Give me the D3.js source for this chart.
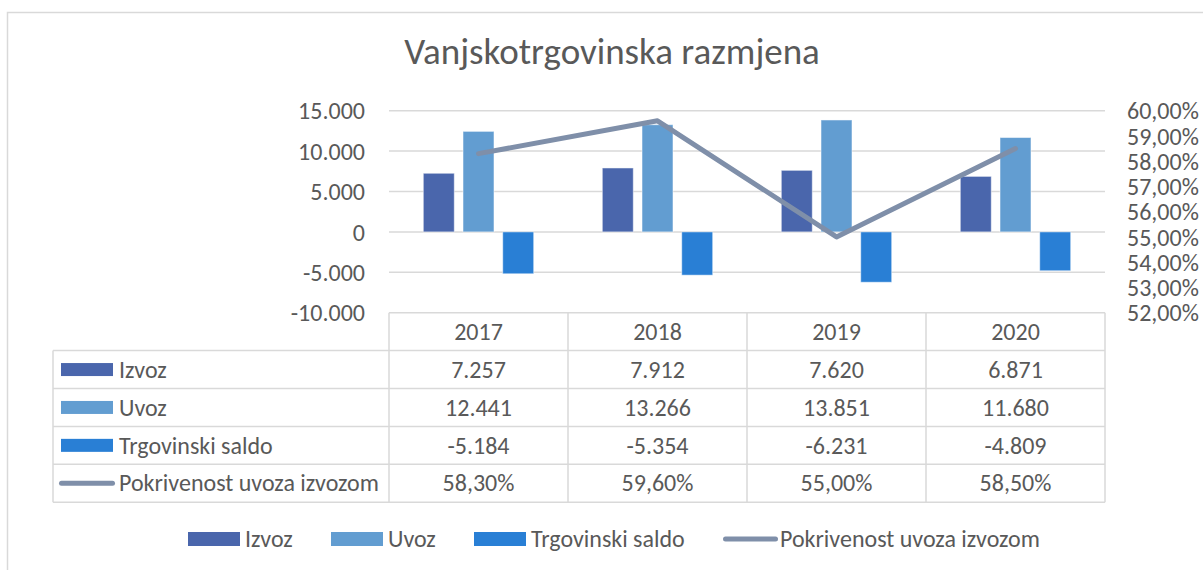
<!DOCTYPE html>
<html>
<head>
<meta charset="utf-8">
<script src="https://cdn.jsdelivr.net/npm/d3@7"></script>
<style>
  html, body { margin: 0; padding: 0; background: #fff; }
  svg { display: block; }
  text { font-family: Carlito, Calibri, "Liberation Sans", Arial, sans-serif; fill: #595959; }
</style>
</head>
<body>
<svg id="chart" width="1203" height="570"></svg>
<script>
// ---------- data ----------
const title = "Vanjskotrgovinska razmjena";
const years = ["2017", "2018", "2019", "2020"];
const seriesNames = ["Izvoz", "Uvoz", "Trgovinski saldo"];
const izvoz = [7257, 7912, 7620, 6871];
const uvoz = [12441, 13266, 13851, 11680];
const saldo = [-5184, -5354, -6231, -4809];
const lineName = "Pokrivenost uvoza izvozom";
const pokrivenost = [58.3, 59.6, 55.0, 58.5];
const leftTicks = [15000, 10000, 5000, 0, -5000, -10000];
const rightTicks = [60, 59, 58, 57, 56, 55, 54, 53, 52];

// ---------- styling ----------
const colors = { "Izvoz": "#4A66AC", "Uvoz": "#629DD1", "Trgovinski saldo": "#297FD5" };
const lineColor = "#7F8FA9";
const gridColor = "#D9D9D9";
const fs = 24;

const svg = d3.select("#chart");
const fmtNum = v => (v < 0 ? "-" : "") + d3.format(",")(Math.abs(v)).replace(/,/g, ".");
const fmtPct = v => d3.format(".2f")(v).replace(".", ",") + "%";

// outer border
svg.append("rect").attr("x", 7.5).attr("y", 12.5).attr("width", 1300).attr("height", 700)
  .attr("fill", "none").attr("stroke", gridColor).attr("stroke-width", 1.5);

// title
svg.append("text").attr("x", 612).attr("y", 64).attr("text-anchor", "middle")
  .attr("font-size", 37).text(title);

// scales
const plotLeft = 389, plotRight = 1105, plotTop = 110.7, plotBottom = 312.7;
const x0 = d3.scaleBand().domain(years).range([plotLeft, plotRight]).paddingInner(0).paddingOuter(0);
const bw = x0.bandwidth();
const x1 = d3.scaleBand().domain(seriesNames).range([bw / 2 - 55.2, bw / 2 + 55.2]).paddingInner(0.22).paddingOuter(0);
const y = d3.scaleLinear().domain([-10000, 15000]).range([plotBottom, plotTop]);
const y2 = d3.scaleLinear().domain([52, 60]).range([plotBottom, plotTop]);

// gridlines
svg.append("g").selectAll("line").data(leftTicks.filter(t => t !== -10000)).join("line")
  .attr("x1", plotLeft).attr("x2", plotRight)
  .attr("y1", d => y(d)).attr("y2", d => y(d))
  .attr("stroke", gridColor).attr("stroke-width", 1.5);

// left axis
const leftAxis = d3.axisLeft(y).tickValues(leftTicks).tickSize(0).tickPadding(0).tickFormat(fmtNum);
const gl = svg.append("g").attr("transform", "translate(365,0)").call(leftAxis);
gl.select(".domain").remove();
gl.selectAll("text").attr("font-size", fs).attr("fill", "#595959").attr("dy", "0.34em")
  .style("font-family", 'Carlito, Calibri, "Liberation Sans", Arial, sans-serif');

// right axis
const rightAxis = d3.axisRight(y2).tickValues(rightTicks).tickSize(0).tickPadding(0).tickFormat(fmtPct);
const gr = svg.append("g").attr("transform", "translate(1127,0)").call(rightAxis);
gr.select(".domain").remove();
gr.selectAll("text").attr("font-size", fs).attr("fill", "#595959").attr("dy", "0.34em")
  .style("font-family", 'Carlito, Calibri, "Liberation Sans", Arial, sans-serif');

// bars
const seriesValues = { "Izvoz": izvoz, "Uvoz": uvoz, "Trgovinski saldo": saldo };
const barData = [];
years.forEach((yr, i) => seriesNames.forEach(s => barData.push({ yr, s, v: seriesValues[s][i] })));
svg.append("g").selectAll("rect").data(barData).join("rect")
  .attr("x", d => x0(d.yr) + x1(d.s))
  .attr("width", x1.bandwidth())
  .attr("y", d => y(Math.max(0, d.v)))
  .attr("height", d => Math.abs(y(d.v) - y(0)))
  .attr("fill", d => colors[d.s])
  .attr("stroke", "#ffffff").attr("stroke-opacity", 0.5).attr("stroke-width", 1);

// line
const lineGen = d3.line().x((d, i) => x0(years[i]) + bw / 2).y(d => y2(d));
svg.append("path").datum(pokrivenost).attr("d", lineGen)
  .attr("fill", "none").attr("stroke", lineColor).attr("stroke-width", 5)
  .attr("stroke-linejoin", "round").attr("stroke-linecap", "round");

// ---------- data table ----------
const tblLeft = 53, rowH = 37.9;
const rowTops = d3.range(6).map(i => plotBottom + i * rowH);
const tbl = svg.append("g");
const tStroke = l => l.attr("stroke", gridColor).attr("stroke-width", 1.5);
tbl.append("line").attr("x1", plotLeft).attr("x2", plotRight).attr("y1", rowTops[0]).attr("y2", rowTops[0]).call(tStroke);
rowTops.slice(1).forEach(yy => {
  tbl.append("line").attr("x1", tblLeft).attr("x2", plotRight).attr("y1", yy).attr("y2", yy).call(tStroke);
});
tbl.append("line").attr("x1", tblLeft).attr("x2", tblLeft).attr("y1", rowTops[1]).attr("y2", rowTops[5]).call(tStroke);
years.forEach(yr => {
  const xx = x0(yr);
  tbl.append("line").attr("x1", xx).attr("x2", xx).attr("y1", rowTops[0]).attr("y2", rowTops[5]).call(tStroke);
});
tbl.append("line").attr("x1", plotRight).attr("x2", plotRight).attr("y1", rowTops[0]).attr("y2", rowTops[5]).call(tStroke);

years.forEach(yr => {
  tbl.append("text").attr("x", x0(yr) + bw / 2).attr("y", (rowTops[0] + rowTops[1]) / 2)
    .attr("dy", "0.34em").attr("text-anchor", "middle").attr("font-size", fs).text(yr);
});
const rows = [
  { name: "Izvoz", vals: izvoz.map(fmtNum), type: "bar" },
  { name: "Uvoz", vals: uvoz.map(fmtNum), type: "bar" },
  { name: "Trgovinski saldo", vals: saldo.map(fmtNum), type: "bar" },
  { name: lineName, vals: pokrivenost.map(fmtPct), type: "line" }
];
rows.forEach((r, ri) => {
  const cy = (rowTops[ri + 1] + rowTops[ri + 2]) / 2;
  if (r.type === "bar") {
    tbl.append("rect").attr("x", 61).attr("y", cy - 6.5).attr("width", 52).attr("height", 13)
      .attr("fill", colors[r.name]);
  } else {
    tbl.append("line").attr("x1", 61.5).attr("x2", 112.5).attr("y1", cy).attr("y2", cy)
      .attr("stroke", lineColor).attr("stroke-width", 5).attr("stroke-linecap", "round");
  }
  tbl.append("text").attr("x", 119).attr("y", cy).attr("dy", "0.34em").attr("font-size", fs).text(r.name);
  r.vals.forEach((v, i) => {
    tbl.append("text").attr("x", x0(years[i]) + bw / 2).attr("y", cy).attr("dy", "0.34em")
      .attr("text-anchor", "middle").attr("font-size", fs).text(v);
  });
});

// ---------- legend ----------
const legY = 539;
const legendItems = [
  { name: "Izvoz", sx: 188, type: "bar" },
  { name: "Uvoz", sx: 331, type: "bar" },
  { name: "Trgovinski saldo", sx: 474, type: "bar" },
  { name: lineName, sx: 723, type: "line" }
];
const lg = svg.append("g");
legendItems.forEach(it => {
  if (it.type === "bar") {
    lg.append("rect").attr("x", it.sx).attr("y", legY - 7).attr("width", 52).attr("height", 14)
      .attr("fill", colors[it.name]);
  } else {
    lg.append("line").attr("x1", it.sx + 2.5).attr("x2", it.sx + 52.5).attr("y1", legY).attr("y2", legY)
      .attr("stroke", lineColor).attr("stroke-width", 5).attr("stroke-linecap", "round");
  }
  lg.append("text").attr("x", it.sx + 57).attr("y", legY).attr("dy", "0.34em").attr("font-size", fs).text(it.name);
});
</script>
</body>
</html>
